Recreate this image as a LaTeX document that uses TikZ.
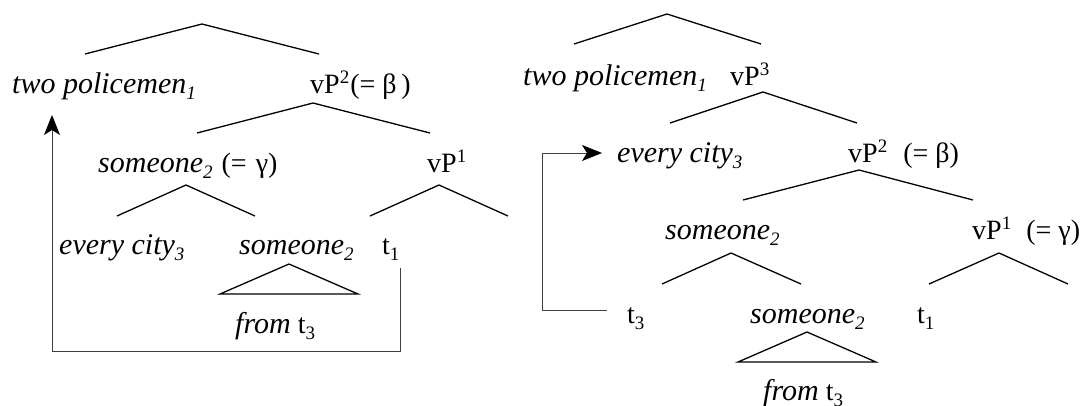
\documentclass[tikz,border=0pt]{standalone}
\usepackage{fontspec}
\setmainfont{Liberation Serif}
\newfontfamily\treeit{Liberation Serif}
\usetikzlibrary{arrows.meta}

\newcommand\lsub[1]{\raisebox{-6pt}{\fontsize{19}{19}\selectfont #1}}
\newcommand\lsup[1]{\raisebox{10pt}{\fontsize{19}{19}\selectfont #1}}

\begin{document}
\begin{tikzpicture}[
    x=1pt, y=-1pt,
    lbl/.style={anchor=base west, inner sep=0pt, font=\fontsize{28}{32}\selectfont},
    itl/.style={lbl, font=\fontsize{30}{34}\selectfont\treeit\itshape},
    branch/.style={line width=1.3pt},
    mvarrow/.style={-{Stealth[length=20pt, width=16pt, inset=5pt, color=black]}, line width=1pt, black!75},
]
    \useasboundingbox (0,0) rectangle (1084,405);

    % Left tree: labels
    \node[itl] (lpol) at (12,93) {two policemen\lsub{1}};
    \node[lbl] (lvpb) at (310,93) {vP\lsup{2}\kern1pt(= β\,)};
    \node[itl] (lsomeg) at (98,172) {someone\lsub{2}\hspace{9pt}{\rmfamily\upshape\fontsize{28}{32}\selectfont(=\hspace{9pt}γ)}};
    \node[lbl] (lvpa) at (427,172) {vP\lsup{1}};
    \node[itl] (lcity) at (59,254) {every city\lsub{3}};
    \node[itl] (lsome) at (239,254) {someone\lsub{2}};
    \node[lbl] (ltone) at (382,254) {t\lsub{1}};
    \node[lbl] (lfrom) at (235,333) {{\treeit\itshape\fontsize{30}{34}\selectfont from} t\lsub{3}};

    % Left tree: branches
    \coordinate (lrootL) at (85,54);   \coordinate (lroot) at (202,24);  \coordinate (lrootR) at (319,54);
    \coordinate (lvpbL) at (197,133);  \coordinate (lvpbT) at (313,103); \coordinate (lvpbR) at (430,133);
    \coordinate (lsomeL) at (117,216); \coordinate (lsomeT) at (186,185); \coordinate (lsomeR) at (255,216);
    \coordinate (lvpaL) at (370,216);  \coordinate (lvpaT) at (439,185); \coordinate (lvpaR) at (508,216);
    \coordinate (ltriL) at (220,294);  \coordinate (ltriT) at (289,264); \coordinate (ltriR) at (358,294);

    \draw[branch] (lrootL) -- (lroot) -- (lrootR);
    \draw[branch] (lvpbL) -- (lvpbT) -- (lvpbR);
    \draw[branch] (lsomeL) -- (lsomeT) -- (lsomeR);
    \draw[branch] (lvpaL) -- (lvpaT) -- (lvpaR);
    \draw[branch] (ltriL) -- (ltriT) -- (ltriR) -- cycle;

    % Left tree: movement of two policemen
    \coordinate (lmvA) at (400,268);
    \coordinate (lmvB) at (52,351);
    \coordinate (lmvC) at (52,115);
    \draw[mvarrow] (lmvA) |- (lmvB) -- (lmvC);

    % Right tree: labels
    \node[itl] (rpol) at (523,85) {two policemen\lsub{1}};
    \node[lbl] (rvpc) at (730,85) {vP\lsup{3}};
    \node[itl] (rcity) at (617,162) {every city\lsub{3}};
    \node[lbl] (rvpb) at (848,162) {vP\lsup{2}\hspace{16pt}(= β)};
    \node[itl] (rsomeu) at (665,239) {someone\lsub{2}};
    \node[lbl] (rvpa) at (972,239) {vP\lsup{1}\hspace{15pt}(= γ)};
    \node[lbl] (rtthree) at (627,323) {t\lsub{3}};
    \node[itl] (rsome) at (750,323) {someone\lsub{2}};
    \node[lbl] (rtone) at (917,323) {t\lsub{1}};
    \node[lbl] (rfrom) at (763,400) {{\treeit\itshape\fontsize{30}{34}\selectfont from} t\lsub{3}};

    % Right tree: branches
    \coordinate (rrootL) at (574,44);  \coordinate (rroot) at (667,14);  \coordinate (rrootR) at (761,44);
    \coordinate (rvpcL) at (670,123);  \coordinate (rvpcT) at (763,92);  \coordinate (rvpcR) at (857,123);
    \coordinate (rvpbL) at (743,200);  \coordinate (rvpbT) at (859,170); \coordinate (rvpbR) at (973,200);
    \coordinate (rsomeL) at (662,284); \coordinate (rsomeT) at (731,253); \coordinate (rsomeR) at (801,284);
    \coordinate (rvpaL) at (929,284);  \coordinate (rvpaT) at (999,253); \coordinate (rvpaR) at (1068,284);
    \coordinate (rtriL) at (738,362);  \coordinate (rtriT) at (807,332); \coordinate (rtriR) at (876,362);

    \draw[branch] (rrootL) -- (rroot) -- (rrootR);
    \draw[branch] (rvpcL) -- (rvpcT) -- (rvpcR);
    \draw[branch] (rvpbL) -- (rvpbT) -- (rvpbR);
    \draw[branch] (rsomeL) -- (rsomeT) -- (rsomeR);
    \draw[branch] (rvpaL) -- (rvpaT) -- (rvpaR);
    \draw[branch] (rtriL) -- (rtriT) -- (rtriR) -- cycle;

    % Right tree: movement of every city
    \coordinate (rmvA) at (607,310);
    \coordinate (rmvB) at (542,153);
    \coordinate (rmvC) at (602,153);
    \draw[mvarrow] (rmvA) -| (rmvB) -- (rmvC);

\end{tikzpicture}
\end{document}
